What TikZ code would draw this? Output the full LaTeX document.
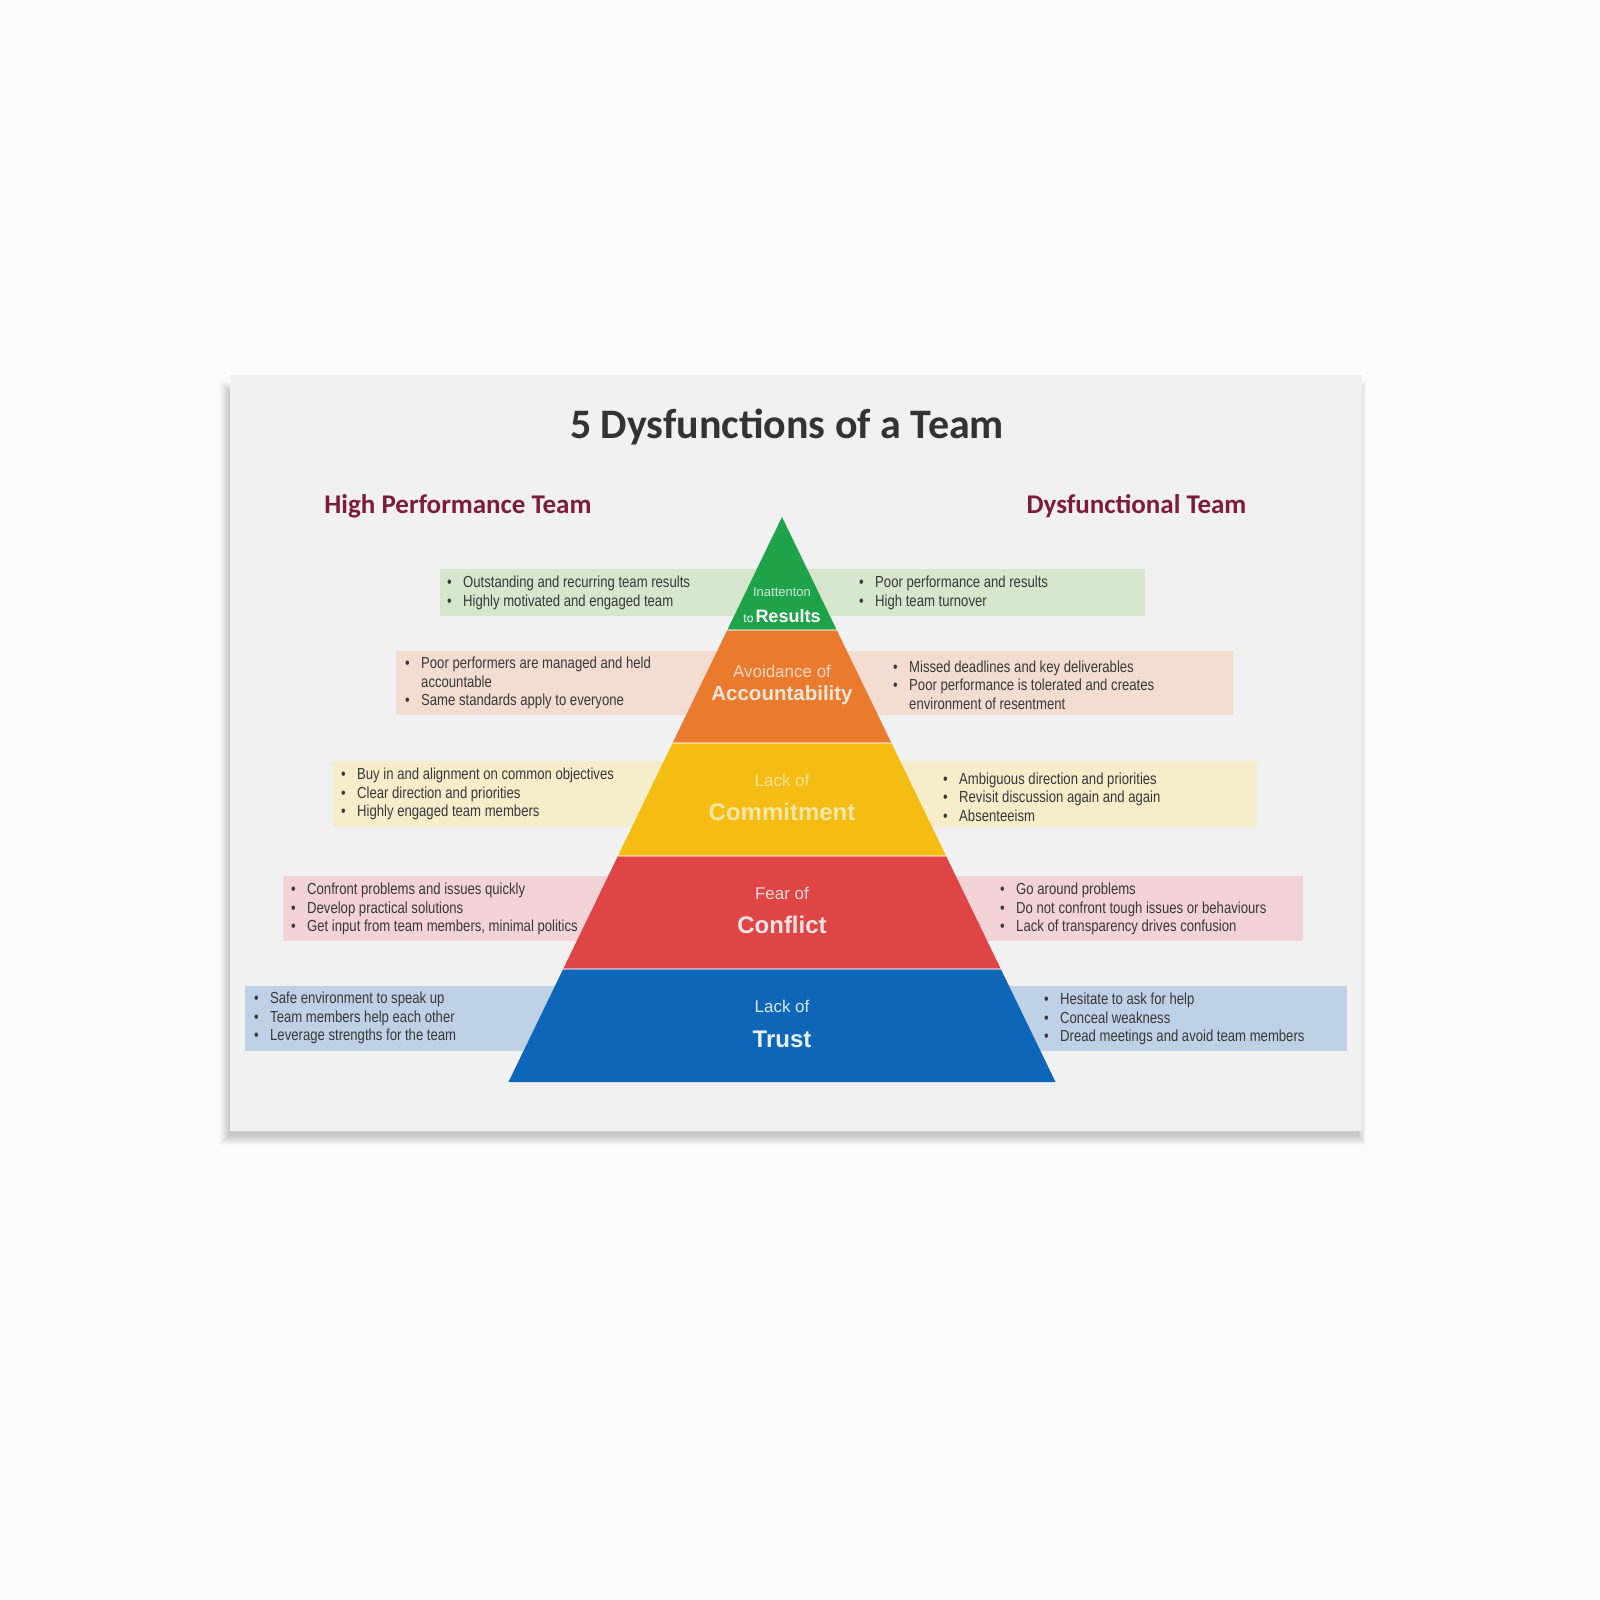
\documentclass[tikz,border=0pt]{standalone}
\usepackage{fontspec}
\setmainfont{Liberation Sans}
\newfontfamily\titlefont{Carlito}
\newfontfamily\narrowfont[FakeStretch=0.82]{Liberation Sans}
\newfontfamily\labelfont{Liberation Sans}
\definecolor{bgc}{HTML}{FBFBFB}
\definecolor{cardc}{HTML}{F1F1F1}
\definecolor{titlec}{HTML}{333333}
\definecolor{subc}{HTML}{7E1A3C}
\definecolor{txtc}{HTML}{383838}
\definecolor{lgreen}{HTML}{1FA34A}
\definecolor{lorange}{HTML}{E97A2E}
\definecolor{lyellow}{HTML}{F5BD14}
\definecolor{lred}{HTML}{DF4545}
\definecolor{lblue}{HTML}{0D66B7}
\definecolor{bgreen}{HTML}{D6E7CD}
\definecolor{bpeach}{HTML}{F3DDD0}
\definecolor{byellow}{HTML}{F6EDCB}
\definecolor{bpink}{HTML}{F4D3D6}
\definecolor{bblue}{HTML}{BED1E7}
\newcommand\bl{\makebox[16pt][l]{\textbullet}}
\newcommand\ind{\hspace*{16pt}}
\begin{document}
\begin{tikzpicture}[x=1pt,y=-1pt,
  bullets/.style={anchor=west, inner sep=0pt, align=left, text=txtc,
    font=\narrowfont\fontsize{16}{18.4}\selectfont},
  small/.style={inner sep=0pt, font=\labelfont\fontsize{17}{17}\selectfont},
  big/.style={inner sep=0pt, font=\labelfont\bfseries\fontsize{24}{24}\selectfont},
  sub/.style={anchor=base, inner sep=0pt, text=subc,
    font=\titlefont\bfseries\fontsize{27}{27}\selectfont}]
\useasboundingbox (0,0) rectangle (1600,1600);
\fill[bgc] (0,0) rectangle (1600,1600);
% shadow
\foreach \s in {0,...,9}
  \fill[black,opacity=0.02] (220+\s,382+\s) rectangle (1366-\s*0.8,1145-\s);
% card
\fill[cardc] (230,375) rectangle (1362,1131);
% bands
\fill[bgreen] (440,569) rectangle (1145,616);
\fill[bpeach] (396,651) rectangle (1233,715);
\fill[byellow] (333,761) rectangle (1257,827);
\fill[bpink] (283,876) rectangle (1303,941);
\fill[bblue] (245,986) rectangle (1347,1051);
% pyramid
\fill[lgreen] (782,517) -- (836.7,630) -- (727.3,630) -- cycle;
\fill[lorange] (727.3,630) -- (836.7,630) -- (891.4,743) -- (672.6,743) -- cycle;
\fill[lyellow] (672.6,743) -- (891.4,743) -- (946.1,856) -- (617.9,856) -- cycle;
\fill[lred] (617.9,856) -- (946.1,856) -- (1000.8,969) -- (563.2,969) -- cycle;
\fill[lblue] (563.2,969) -- (1000.8,969) -- (1055.5,1082) -- (508.5,1082) -- cycle;
\draw[white,opacity=0.45,line width=1.5pt] (727.3,630) -- (836.7,630)
  (672.6,743) -- (891.4,743) (617.9,856) -- (946.1,856) (563.2,969) -- (1000.8,969);
% pyramid labels
\node[inner sep=0pt, text=white!78!lgreen, font=\labelfont\fontsize{13}{13}\selectfont] (inat) at (782,592) {Inattenton};
\node[inner sep=0pt, text=white, font=\labelfont\fontsize{12}{12}\selectfont] (res) at (782,616) {to\,{\bfseries\fontsize{18}{18}\selectfont Results}};
\node[small, text=white!70!lorange] (avo) at (782,671) {Avoidance of};
\node[inner sep=0pt, text=white!82!lorange, font=\labelfont\bfseries\fontsize{20.5}{20.5}\selectfont] (acc) at (782,695) {Accountability};
\node[small, text=white!55!lyellow] (lc) at (782,780) {Lack of};
\node[big, text=white!62!lyellow] (com) at (782,812) {Commitment};
\node[small, text=white!80!lred] (fo) at (782,893) {Fear of};
\node[big, text=white!85!lred] (con) at (782,925) {Conflict};
\node[small, text=white!85!lblue] (lt) at (782,1006) {Lack of};
\node[big, text=white!90!lblue] (tru) at (782,1039) {Trust};
% titles
\node[anchor=base, inner sep=0pt, text=titlec, font=\titlefont\bfseries\fontsize{42}{42}\selectfont] (title) at (787,438) {5 Dysfunctions of a Team};
\node[sub] (hpt) at (458,513) {High Performance Team};
\node[sub] (dft) at (1136.5,513) {Dysfunctional Team};
% bullets left
\node[bullets] (l1) at (447,593) {\bl Outstanding and recurring team results\\\bl Highly motivated and engaged team};
\node[bullets] (l2) at (405,683) {\bl Poor performers are managed and held\\\ind accountable\\\bl Same standards apply to everyone};
\node[bullets] (l3) at (341,794) {\bl Buy in and alignment on common objectives\\\bl Clear direction and priorities\\\bl Highly engaged team members};
\node[bullets] (l4) at (291,909) {\bl Confront problems and issues quickly\\\bl Develop practical solutions\\\bl Get input from team members, minimal politics};
\node[bullets] (l5) at (254,1018) {\bl Safe environment to speak up\\\bl Team members help each other\\\bl Leverage strengths for the team};
% bullets right
\node[bullets] (r1) at (859,593) {\bl Poor performance and results\\\bl High team turnover};
\node[bullets] (r2) at (893,685) {\bl Missed deadlines and key deliverables\\\bl Poor performance is tolerated and creates\\\ind environment of resentment};
\node[bullets] (r3) at (943,797) {\bl Ambiguous direction and priorities\\\bl Revisit discussion again and again\\\bl Absenteeism};
\node[bullets] (r4) at (1000,909) {\bl Go around problems\\\bl Do not confront tough issues or behaviours\\\bl Lack of transparency drives confusion};
\node[bullets] (r5) at (1044,1019) {\bl Hesitate to ask for help\\\bl Conceal weakness\\\bl Dread meetings and avoid team members};
\end{tikzpicture}
\end{document}
